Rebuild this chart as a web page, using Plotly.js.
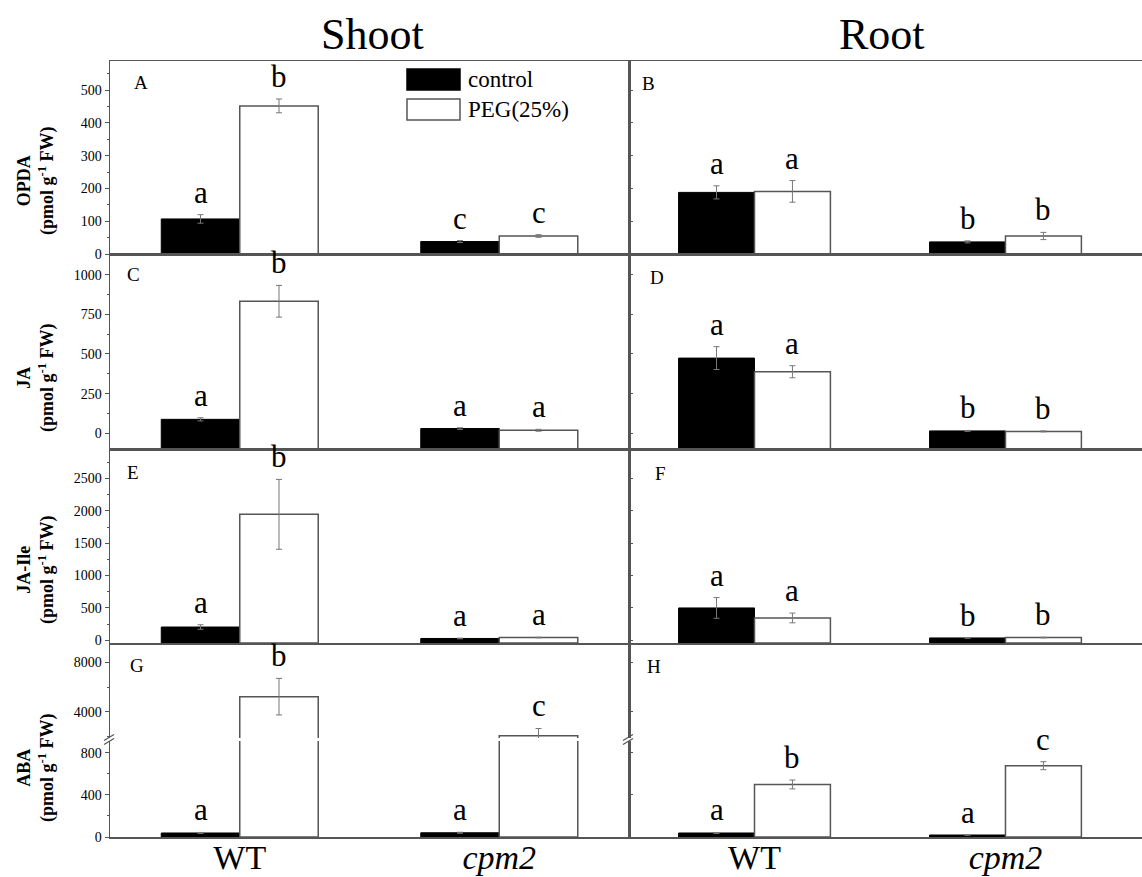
<!DOCTYPE html>
<html><head><meta charset="utf-8">
<script src="https://cdn.plot.ly/plotly-3.0.1.min.js"></script>
<style>html,body{margin:0;padding:0;background:#fff}</style>
</head><body><div id="chart" style="width:1142px;height:877px"></div>
<script>
// ---------------- DATA ----------------
const categories = ['WT', 'cpm2'];
const categoryLabels = ['WT', '<i>cpm2</i>'];
const seriesNames = ['control', 'PEG(25%)'];
const columnTitles = ['Shoot', 'Root'];
const hormoneNames = ['OPDA', 'JA', 'JA-Ile', 'ABA'];
const unitLabel = '(pmol g<sup>-1</sup> FW)';
const panelLetters = ['A', 'B', 'C', 'D', 'E', 'F', 'G', 'H'];

// OPDA
const opdaShootControl = [107, 38];   const opdaShootControlErr = [13, 3];
const opdaShootPEG = [452, 55];       const opdaShootPEGErr = [21, 4];
const opdaShootLetters = [['a', 'c'], ['b', 'c']];
const opdaRootControl = [188, 37];    const opdaRootControlErr = [20, 3];
const opdaRootPEG = [191, 55];        const opdaRootPEGErr = [33, 11];
const opdaRootLetters = [['a', 'b'], ['a', 'b']];
// JA
const jaShootControl = [88, 30];      const jaShootControlErr = [10, 5];
const jaShootPEG = [832, 19];         const jaShootPEGErr = [100, 6];
const jaShootLetters = [['a', 'a'], ['b', 'a']];
const jaRootControl = [474, 15];      const jaRootControlErr = [72, 3];
const jaRootPEG = [388, 12];          const jaRootPEGErr = [38, 3];
const jaRootLetters = [['a', 'b'], ['a', 'b']];
// JA-Ile
const jaIleShootControl = [205, 28];  const jaIleShootControlErr = [35, 5];
const jaIleShootPEG = [1947, 42];     const jaIleShootPEGErr = [540, 5];
const jaIleShootLetters = [['a', 'a'], ['b', 'a']];
const jaIleRootControl = [500, 36];   const jaIleRootControlErr = [160, 5];
const jaIleRootPEG = [345, 42];       const jaIleRootPEGErr = [75, 5];
const jaIleRootLetters = [['a', 'b'], ['a', 'b']];
// ABA
const abaShootControl = [38, 40];     const abaShootControlErr = [5, 5];
const abaShootPEG = [5220, 2050];     const abaShootPEGErr = [1480, 590];
const abaShootLetters = [['a', 'a'], ['b', 'c']];
const abaRootControl = [38, 19];      const abaRootControlErr = [5, 3];
const abaRootPEG = [498, 676];        const abaRootPEGErr = [42, 38];
const abaRootLetters = [['a', 'a'], ['b', 'c']];

// ---------------- LAYOUT HELPERS ----------------
const FONT = '"Liberation Serif", "Times New Roman", serif';
const W = 1142, H = 877;
const fx = p => p / W;
const fy = p => 1 - p / H;
const LINE = '#555';

const colX = [[110, 629], [629, 1142]];
const colRange = [[-0.5, 1.5], [-0.5, 1.544]];
const rowY = [[61, 254], [254, 449], [449, 643], [643, 837]];
const upperBreak = [643, 738], lowerBreak = [741, 837];

const rowAxis = [
  {range: [0, 589], dtick: 100, minor: 50},
  {range: [-99, 1130], dtick: 250, minor: 125},
  {range: [-42, 2957], dtick: 500, minor: 250},
  {range: [0, 910], dtick: 400, minor: 200}
];
const upperAxis = {range: [1870, 9563], dtick: 4000, minor: 2000};

const panels = [
  [opdaShootControl, opdaShootControlErr, opdaShootPEG, opdaShootPEGErr, opdaShootLetters],
  [opdaRootControl, opdaRootControlErr, opdaRootPEG, opdaRootPEGErr, opdaRootLetters],
  [jaShootControl, jaShootControlErr, jaShootPEG, jaShootPEGErr, jaShootLetters],
  [jaRootControl, jaRootControlErr, jaRootPEG, jaRootPEGErr, jaRootLetters],
  [jaIleShootControl, jaIleShootControlErr, jaIleShootPEG, jaIleShootPEGErr, jaIleShootLetters],
  [jaIleRootControl, jaIleRootControlErr, jaIleRootPEG, jaIleRootPEGErr, jaIleRootLetters],
  [abaShootControl, abaShootControlErr, abaShootPEG, abaShootPEGErr, abaShootLetters],
  [abaRootControl, abaRootControlErr, abaRootPEG, abaRootPEGErr, abaRootLetters]
];

// panel label offsets (px from axis / top)
const labelOffsets = [[22, 9], [11, 10], [15, 8], [19, 11], [15, 11], [24, 12], [18, 10], [16, 11]];
const titleCenters = [181, 378, 570, 768];

const BARGAP = 0.395;
const halfOff = (1 - BARGAP) / 4;

const data = [];
const layout = {
  width: W, height: H,
  margin: {l: 0, r: 0, t: 0, b: 0},
  paper_bgcolor: '#fff', plot_bgcolor: 'rgba(0,0,0,0)',
  barmode: 'group', bargap: BARGAP, bargroupgap: 0,
  showlegend: false,
  font: {family: FONT, color: '#000'},
  annotations: [], shapes: []
};

function makeTraces(vals, errs, base, xa, ya) {
  const styles = [
    {color: '#000', line: {color: '#000', width: 1}},
    {color: '#fff', line: {color: LINE, width: 1.5}}
  ];
  return [0, 1].map(s => ({
    type: 'bar', name: seriesNames[s],
    x: categories.map((c, i) => i),
    y: vals[s].map(v => v - base), base: base,
    marker: styles[s],
    error_y: {type: 'data', array: errs[s], visible: true, color: '#777', thickness: 1, width: 3},
    xaxis: xa, yaxis: ya, hoverinfo: 'skip', showlegend: false
  }));
}

function yAxisCfg(cfg, col, domain, anchor) {
  return {
    domain: domain, range: cfg.range, anchor: anchor,
    showline: true, linecolor: LINE, linewidth: 1.5, mirror: true,
    ticks: col === 0 ? 'outside' : 'inside', ticklen: 4, tickwidth: 1, tickcolor: LINE,
    dtick: cfg.dtick, tick0: 0,
    minor: {dtick: cfg.minor, tick0: 0, ticks: col === 0 ? 'outside' : 'inside', ticklen: 2, tickcolor: LINE, tickwidth: 1, showgrid: false},
    showticklabels: col === 0, tickfont: {size: 14, family: FONT, color: '#000'},
    showgrid: false, zeroline: false, fixedrange: true
  };
}

let upperIdx = 9;
for (let row = 0; row < 4; row++) {
  for (let col = 0; col < 2; col++) {
    const p = row * 2 + col;
    const k = col * 4 + row + 1;
    const xa = 'x' + k, ya = 'y' + k;
    const xKey = 'xaxis' + k, yKey = 'yaxis' + k;
    const [cv, ce, pv, pe, letters] = panels[p];
    const vals = [cv, pv], errs = [ce, pe];
    const cfg = rowAxis[row];
    const isBroken = row === 3;
    const yDom = isBroken ? [fy(lowerBreak[1]), fy(lowerBreak[0])] : [fy(rowY[row][1]), fy(rowY[row][0])];

    layout[xKey] = {
      domain: [fx(colX[col][0]), fx(colX[col][1])], range: colRange[col], anchor: ya,
      showline: true, linecolor: LINE, linewidth: 1.5, mirror: row < 3 ? true : false,
      ticks: '', tickvals: [0, 1], ticktext: categoryLabels, ticklabelstandoff: -10,
      showticklabels: row === 3, tickfont: {size: 34, family: FONT, color: '#000'},
      showgrid: false, zeroline: false, fixedrange: true
    };
    layout[yKey] = yAxisCfg(cfg, col, yDom, xa);
    data.push(...makeTraces(vals, errs, cfg.range[0], xa, ya));

    let upYa = null;
    if (isBroken) {
      const ui = upperIdx++;
      upYa = 'y' + ui;
      const ucfg = yAxisCfg(upperAxis, col, [fy(upperBreak[1]), fy(upperBreak[0])], xa);
      ucfg.tickvals = [4000, 8000];
      layout['yaxis' + ui] = ucfg;
      data.push(...makeTraces(vals, errs, 0, xa, upYa));
      // axis break marks
      const bx = colX[col][0], by = (upperBreak[1] + lowerBreak[0]) / 2;
      [-2, 2].forEach(d => layout.shapes.push({
        type: 'line', xref: 'paper', yref: 'paper',
        x0: fx(bx - 6), y0: fy(by + d + 3), x1: fx(bx + 4), y1: fy(by + d - 3),
        line: {color: LINE, width: 1.2}
      }));
    }

    // significance letters
    [0, 1].forEach(s => categories.forEach((c, i) => {
      const top = vals[s][i] + errs[s][i];
      const useUpper = isBroken && top > cfg.range[1];
      layout.annotations.push({
        x: i + (s === 0 ? -halfOff : halfOff), xref: xa,
        y: top, yref: useUpper ? upYa : ya,
        text: letters[s][i], showarrow: false, yanchor: 'bottom', yshift: 3,
        font: {size: 31, family: FONT, color: '#000'}
      });
    }));

    // panel label
    const off = labelOffsets[p];
    layout.annotations.push({
      x: fx(colX[col][0] + off[0]), y: fy(rowY[row][0] + off[1]), xref: 'paper', yref: 'paper',
      xanchor: 'left', yanchor: 'top', text: panelLetters[p], showarrow: false,
      font: {size: 19, family: FONT, color: '#000'}
    });
  }
  // y-axis title
  layout.annotations.push({
    x: fx(36), y: fy(titleCenters[row]), xref: 'paper', yref: 'paper',
    text: '<b>' + hormoneNames[row] + '<br>' + unitLabel + '</b>', textangle: -90,
    showarrow: false, xanchor: 'center', yanchor: 'middle',
    font: {size: 18, family: FONT, color: '#000'}
  });
}

// column titles
[372, 882].forEach((cx, i) => layout.annotations.push({
  x: fx(cx), y: fy(34), xref: 'paper', yref: 'paper', text: columnTitles[i],
  showarrow: false, xanchor: 'center', yanchor: 'middle',
  font: {size: 44, family: FONT, color: '#000'}
}));

// legend (drawn in panel A)
const legendBoxes = [[69, 90], [99, 120]];
legendBoxes.forEach((b, s) => {
  layout.shapes.push({
    type: 'rect', xref: 'paper', yref: 'paper',
    x0: fx(407), x1: fx(460), y0: fy(b[1]), y1: fy(b[0]),
    fillcolor: s === 0 ? '#000' : '#fff', line: {color: s === 0 ? '#000' : LINE, width: 1.5}
  });
  layout.annotations.push({
    x: fx(466), y: fy((b[0] + b[1]) / 2), xref: 'paper', yref: 'paper',
    xanchor: 'left', yanchor: 'middle', text: seriesNames[s], showarrow: false,
    font: {size: 23, family: FONT, color: '#000'}
  });
});

Plotly.newPlot('chart', data, layout, {staticPlot: true, displayModeBar: false});
</script>
</body></html>
